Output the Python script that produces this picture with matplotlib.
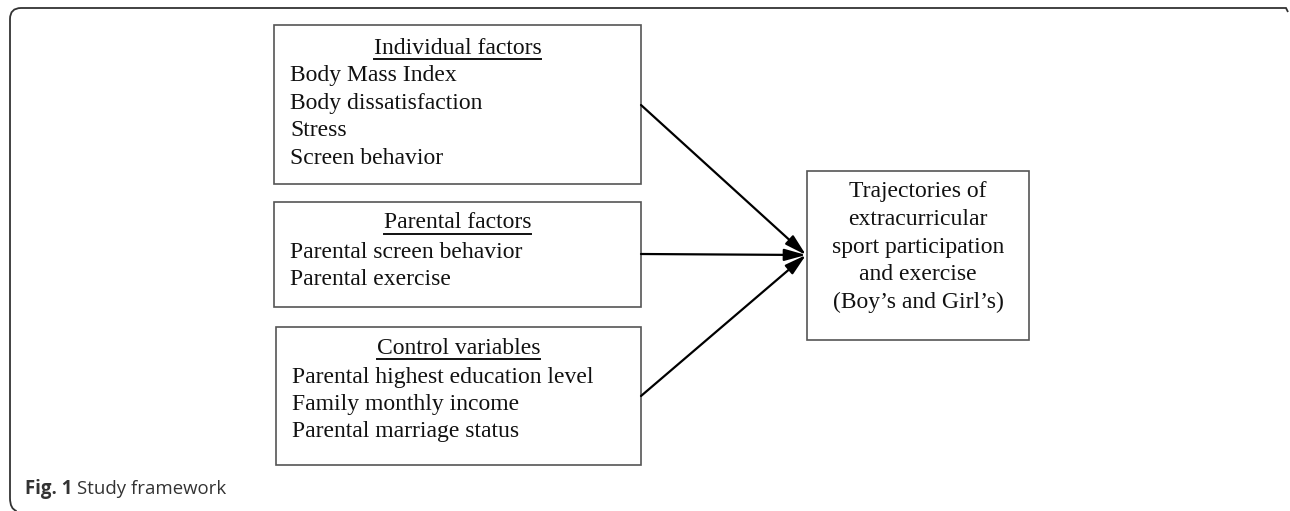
import matplotlib.pyplot as plt
from matplotlib.patches import Rectangle, FancyArrowPatch
from matplotlib.path import Path
from matplotlib.patches import PathPatch

# diagram content
box_titles = ['Individual factors', 'Parental factors', 'Control variables']
individual_items = ['Body Mass Index', 'Body dissatisfaction', 'Stress', 'Screen behavior']
parental_items = ['Parental screen behavior', 'Parental exercise']
control_items = ['Parental highest education level', 'Family monthly income',
                 'Parental marriage status']
outcome_lines = ['Trajectories of', 'extracurricular', 'sport participation',
                 'and exercise', '(Boy\u2019s and Girl\u2019s)']
caption_bold = 'Fig. 1'
caption_text = 'Study framework'

W, H = 1290, 511
fig = plt.figure(figsize=(W / 100, H / 100), dpi=100)
ax = fig.add_axes([0, 0, 1, 1])
ax.set_xlim(0, W)
ax.set_ylim(H, 0)
ax.axis('off')

serif = 'Liberation Serif'
fs = 17
edge = '#555555'

# outer frame: rounded left corners, open right/bottom
r = 11
frame = Path([(1288, 12), (1286, 8), (10 + r, 8), (10, 8), (10, 8 + r),
              (10, 509 - r), (10, 509), (10 + r * 0.6, 511)],
             [Path.MOVETO, Path.LINETO, Path.LINETO, Path.CURVE3, Path.CURVE3,
              Path.LINETO, Path.CURVE3, Path.CURVE3])
ax.add_patch(PathPatch(frame, fill=False, edgecolor='#333333', lw=1.3))

# left boxes: (x0, y0, x1, y1), title y, first item y, text left
layout = [((274, 25, 641, 184), 48, 76, 290),
          ((274, 202, 641, 307), 223, 252, 290),
          ((276, 327, 641, 465), 348, 377, 292)]
items_all = [individual_items, parental_items, control_items]
step = 27.5

fig.canvas.draw()
renderer = fig.canvas.get_renderer()
inv = ax.transData.inverted()

for (bx, ty, iy, tx), title, items in zip(layout, box_titles, items_all):
    x0, y0, x1, y1 = bx
    ax.add_patch(Rectangle((x0, y0), x1 - x0, y1 - y0, fill=False,
                           edgecolor=edge, lw=1.2))
    cx = (x0 + x1) / 2
    t = ax.text(cx, ty, title, family=serif, fontsize=fs, ha='center',
                va='center', color='#111111')
    bb = t.get_window_extent(renderer)
    (ux0, _), (ux1, _) = inv.transform([(bb.x0, bb.y0), (bb.x1, bb.y0)])
    ax.plot([ux0, ux1], [ty + 11, ty + 11], color='#111111', lw=1.4)
    for k, item in enumerate(items):
        ax.text(tx, iy + k * step, item, family=serif, fontsize=fs,
                ha='left', va='center', color='#111111')

# outcome box
ox0, oy0, ox1, oy1 = 807, 171, 1029, 340
ax.add_patch(Rectangle((ox0, oy0), ox1 - ox0, oy1 - oy0, fill=False,
                       edgecolor=edge, lw=1.2))
for k, line in enumerate(outcome_lines):
    ax.text((ox0 + ox1) / 2, 192 + k * step, line, family=serif, fontsize=fs,
            ha='center', va='center', color='#111111')

# arrows
tip = (806, 255)
for start in [(641, 105), (641, 254), (641, 396)]:
    ax.add_patch(FancyArrowPatch(start, tip,
                                 arrowstyle='-|>,head_length=0.65,head_width=0.18',
                                 mutation_scale=20, lw=1.6, color='black',
                                 shrinkA=0, shrinkB=0))

# caption
cb = ax.text(25, 489, caption_bold, family='Open Sans', fontweight='bold',
             fontsize=13.4, ha='left', va='center', color='#333333')
bb = cb.get_window_extent(renderer)
xend = inv.transform((bb.x1, bb.y0))[0]
ax.text(xend + 5, 489, caption_text, family='Open Sans', fontsize=13.4,
        ha='left', va='center', color='#333333')

fig.savefig('out.png', dpi=100)
